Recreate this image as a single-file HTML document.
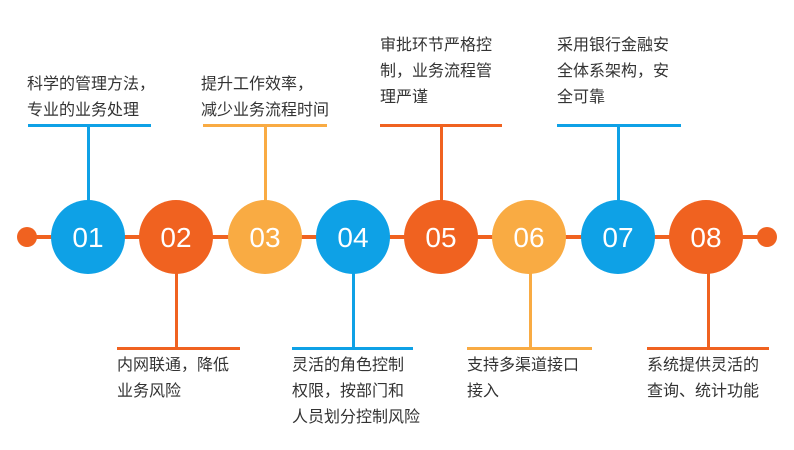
<!DOCTYPE html>
<html><head><meta charset="utf-8"><style>
body{margin:0;background:#fff;width:794px;height:450px;overflow:hidden;position:relative;font-family:"Liberation Sans","Noto Sans CJK SC",sans-serif}
.a{position:absolute}
.c{position:absolute;width:74px;height:74px;border-radius:50%;top:200px;color:#fff;font-size:28px;line-height:76px;text-align:center}
.t{position:absolute;font-size:16px;line-height:26px;color:#333;white-space:nowrap}
.B{background:#0ea1e6}.O{background:#f06220}.Y{background:#f9ab43}
</style></head><body>
<div class="a O" style="left:27px;top:235px;width:740px;height:4px"></div>
<div class="a O" style="left:17px;top:227px;width:20px;height:20px;border-radius:50%"></div>
<div class="a O" style="left:757px;top:227px;width:20px;height:20px;border-radius:50%"></div>

<div class="a B" style="left:28px;top:124px;width:123px;height:3px"></div><div class="a B" style="left:87px;top:124px;width:3px;height:80px"></div>
<div class="a Y" style="left:203px;top:124px;width:124px;height:3px"></div><div class="a Y" style="left:264px;top:124px;width:3px;height:80px"></div>
<div class="a O" style="left:380px;top:124px;width:122px;height:3px"></div><div class="a O" style="left:440px;top:124px;width:3px;height:80px"></div>
<div class="a B" style="left:557px;top:124px;width:124px;height:3px"></div><div class="a B" style="left:617px;top:124px;width:3px;height:80px"></div>
<div class="a O" style="left:117px;top:347px;width:123px;height:3px"></div><div class="a O" style="left:175px;top:270px;width:3px;height:79px"></div>
<div class="a B" style="left:292px;top:347px;width:121px;height:3px"></div><div class="a B" style="left:352px;top:270px;width:3px;height:79px"></div>
<div class="a Y" style="left:467px;top:347px;width:125px;height:3px"></div><div class="a Y" style="left:529px;top:270px;width:3px;height:79px"></div>
<div class="a O" style="left:647px;top:347px;width:122px;height:3px"></div><div class="a O" style="left:707px;top:270px;width:3px;height:79px"></div>

<div class="c B" style="left:51px">01</div>
<div class="c O" style="left:139px">02</div>
<div class="c Y" style="left:228px">03</div>
<div class="c B" style="left:316px">04</div>
<div class="c O" style="left:404px">05</div>
<div class="c Y" style="left:492px">06</div>
<div class="c B" style="left:581px">07</div>
<div class="c O" style="left:669px">08</div>

<div class="t" style="left:27px;top:72px">科学的管理方法，<br>专业的业务处理</div>
<div class="t" style="left:201px;top:72px">提升工作效率，<br>减少业务流程时间</div>
<div class="t" style="left:380px;top:33px">审批环节严格控<br>制，业务流程管<br>理严谨</div>
<div class="t" style="left:557px;top:33px">采用银行金融安<br>全体系架构，安<br>全可靠</div>
<div class="t" style="left:117px;top:353px">内网联通，降低<br>业务风险</div>
<div class="t" style="left:292px;top:353px">灵活的角色控制<br>权限，按部门和<br>人员划分控制风险</div>
<div class="t" style="left:467px;top:353px">支持多渠道接口<br>接入</div>
<div class="t" style="left:647px;top:353px">系统提供灵活的<br>查询、统计功能</div>
</body></html>
